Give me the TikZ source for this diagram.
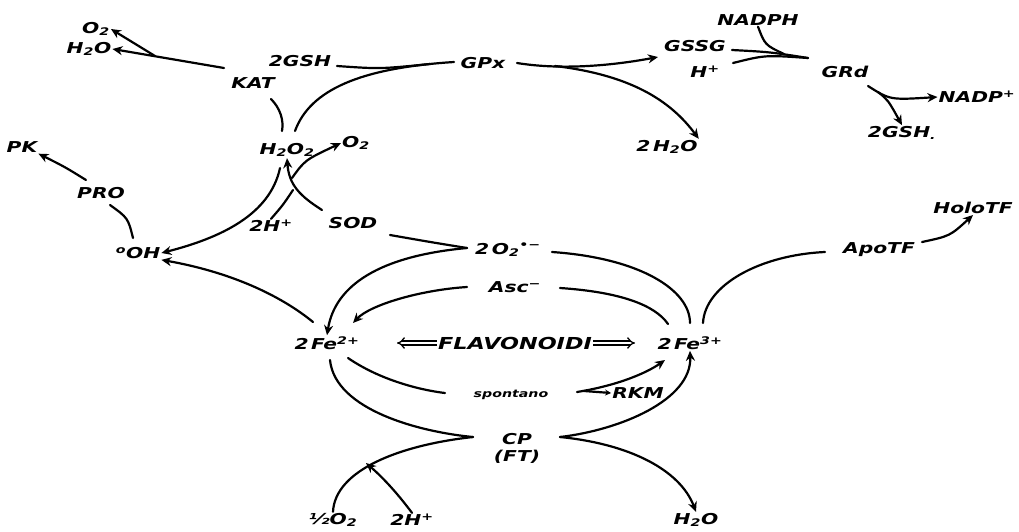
\documentclass[tikz,border=0pt]{standalone}
\usepackage{fontspec}
\usetikzlibrary{arrows.meta}
\newfontfamily\lab[FakeStretch=1.35]{DejaVu Sans Bold Oblique}
\newcommand{\sbs}[1]{\textsubscript{#1}}
\newcommand{\sps}[1]{\textsuperscript{#1}}
\begin{document}
\begin{tikzpicture}[x=1pt,y=-1pt,
  lbl/.style={inner sep=1pt,font=\lab\fontsize{15}{17}\selectfont},
  small/.style={inner sep=1pt,font=\lab\fontsize{10.5}{12}\selectfont},
  big/.style={inner sep=1pt,font=\lab\fontsize{16.5}{19}\selectfont},
  ln/.style={line width=2.2pt,line cap=round},
  arr/.style={ln,-{Stealth[length=10pt,width=9pt]}},
  dbl/.style={double distance=2.6pt,line width=1.3pt,-{Implies[length=5pt]}}]
\useasboundingbox (0,0) rectangle (1019,531);
% nodes
\node[lbl] (O2a) at (96,29) {O\sbs{2}};
\node[lbl] (H2Oa) at (89,49) {H\sbs{2}O};
\node[lbl] (KAT) at (253,83) {KAT};
\node[lbl] (GSH1) at (300,61) {2GSH};
\node[lbl] (GPx) at (483,63) {GPx};
\node[lbl] (GSSG) at (695,46) {GSSG};
\node[lbl] (NADPH) at (758,20) {NADPH};
\node[lbl] (Hp1) at (705,72) {H\sps{+}};
\node[lbl] (GRd) at (845,72) {GRd};
\node[lbl] (NADP) at (977,97) {NADP\sps{+}};
\node[lbl] (GSH2) at (902,133) {2GSH\sbs{.}};
\node[lbl] (H2Ob) at (667,147) {2\,H\sbs{2}O};
\node[lbl] (H2O2) at (287,150) {H\sbs{2}O\sbs{2}};
\node[lbl] (O2b) at (356,143) {O\sbs{2}};
\node[lbl] (Hp2) at (271,226) {2H\sps{+}};
\node[lbl] (SOD) at (353,223) {SOD};
\node[lbl] (PK) at (22,147) {PK};
\node[lbl] (PRO) at (101,193) {PRO};
\node[lbl] (OH) at (138,253) {\sps{o}OH};
\node[lbl] (O2r) at (508,250) {2\,O\sbs{2}\sps{•−}};
\node[lbl] (Asc) at (515,287) {Asc\sps{−}};
\node[lbl] (Fe2) at (327,343) {2\,Fe\sps{2+}};
\node[big] (FLAV) at (515,343) {FLAVONOIDI};
\node[lbl] (Fe3) at (690,343) {2\,Fe\sps{3+}};
\node[lbl] (Apo) at (879,250) {ApoTF};
\node[lbl] (Holo) at (973,208) {HoloTF};
\node[small] (spont) at (511,395) {spontano};
\node[lbl] (RKM) at (638,393) {RKM};
\node[lbl,align=center] (CP) at (517,448) {CP\\(FT)};
\node[lbl] (half) at (333,520) {½O\sbs{2}};
\node[lbl] (Hp3) at (412,520) {2H\sps{+}};
\node[lbl] (H2Oc) at (696,520) {H\sbs{2}O};
% junction coordinates
\coordinate (k1) at (224,68);
\coordinate (kb) at (155,56);
\coordinate (kat1) at (271,99);
\coordinate (h2o2a) at (282,131);
\coordinate (h2o2b) at (295,131);
\coordinate (gpxl) at (454,62);
\coordinate (gshr) at (337,66);
\coordinate (gpxr) at (517,63);
\coordinate (gpxb) at (555,66);
\coordinate (gssgr) at (732,50);
\coordinate (grdl) at (808,58);
\coordinate (nadm) at (784,54);
\coordinate (hpr) at (733,63);
\coordinate (grdb) at (868,86);
\coordinate (grdbb) at (878,92);
\coordinate (h2o2c) at (292,178);
\coordinate (sodl) at (322,210);
\coordinate (sodj) at (293,190);
\coordinate (h2o2d) at (280,168);
\coordinate (proa) at (133,238);
\coordinate (prob) at (110,205);
\coordinate (prot) at (86,180);
\coordinate (fe2a) at (313,322);
\coordinate (o2l) at (467,248);
\coordinate (sodr) at (390,235);
\coordinate (ascl) at (467,287);
\coordinate (fe2d) at (353,323);
\coordinate (o2rr) at (552,252);
\coordinate (ascr) at (560,288);
\coordinate (fe3a) at (690,323);
\coordinate (fe3b) at (668,324);
\coordinate (fe3c) at (703,323);
\coordinate (fe3d) at (665,360);
\coordinate (apol) at (825,252);
\coordinate (apor) at (922,242);
\coordinate (fe2b) at (330,360);
\coordinate (fe2c) at (348,358);
\coordinate (spl) at (445,393);
\coordinate (spr) at (577,392);
\coordinate (spj) at (584,391);
\coordinate (cpl) at (473,437);
\coordinate (cpr) at (560,437);
\coordinate (hj) at (366,463);
\coordinate (gssgt) at (658,57);
\coordinate (flL) at (397,343);
\coordinate (flR) at (635,343);
% connectors
\draw[arr] (k1) -- (H2Oa.east);
\draw[arr] (kb) .. controls (135,44) .. (O2a.east);
\draw[ln] (kat1) .. controls (280,108) and (284,120) .. (h2o2a);
\draw[ln] (h2o2b) .. controls (310,90) and (360,68) .. (gpxl);
\draw[ln] (gshr) .. controls (380,69) .. (430,64);
\draw[arr] (gpxr) .. controls (560,70) and (610,66) .. (gssgt);
\draw[arr] (gpxb) .. controls (630,75) and (670,100) .. (H2Ob.north east);
\draw[ln] (gssgr) .. controls (770,52) .. (grdl);
\draw[ln] (NADPH.south) .. controls (765,45) .. (nadm);
\draw[ln] (hpr) .. controls (765,55) .. (grdl);
\draw[arr] (grdb) .. controls (890,100) .. (NADP.west);
\draw[arr] (grdbb) .. controls (888,100) .. (GSH2.north);
\draw[arr] (h2o2c) .. controls (305,160) .. (O2b.west);
\draw[arr] (sodl) .. controls (300,196) and (289,185) .. (H2O2.south);
\draw[ln] (Hp2.north) .. controls (283,205) .. (sodj);
\draw[arr] (h2o2d) .. controls (270,215) and (220,238) .. (OH.east);
\draw[ln] (proa) .. controls (128,218) .. (prob);
\draw[arr] (prot) .. controls (65,167) .. (PK.south east);
\draw[arr] (fe2a) .. controls (280,295) and (230,272) .. (OH.south east);
\draw[arr] (o2l) .. controls (380,256) and (335,285) .. (Fe2.north);
\draw[ln] (sodr) .. controls (430,242) .. (o2l);
\draw[arr] (ascl) .. controls (420,290) and (370,305) .. (fe2d);
\draw[ln] (o2rr) .. controls (640,258) and (690,290) .. (fe3a);
\draw[ln] (ascr) .. controls (620,292) and (655,305) .. (fe3b);
\draw[ln] (fe3c) .. controls (705,285) and (760,255) .. (apol);
\draw[arr] (apor) .. controls (950,236) .. (Holo.south);
\draw[ln] (fe2b) .. controls (335,410) and (420,432) .. (cpl);
\draw[ln] (fe2c) .. controls (380,380) and (420,390) .. (spl);
\draw[arr] (spr) .. controls (620,385) and (648,372) .. (fe3d);
\draw[ln,-{Stealth[length=6pt,width=6pt]}] (spj) -- (RKM.west);
\draw[arr] (cpr) .. controls (620,430) and (692,400) .. (Fe3.south);
\draw[arr] (cpr) .. controls (630,444) and (680,470) .. (H2Oc.north);
\draw[ln] (half.north) .. controls (335,470) and (400,445) .. (cpl);
\draw[arr] (Hp3.north) .. controls (395,490) and (380,475) .. (hj);
\draw[dbl] (FLAV.west) -- (flL);
\draw[dbl] (FLAV.east) -- (flR);
\end{tikzpicture}
\end{document}
